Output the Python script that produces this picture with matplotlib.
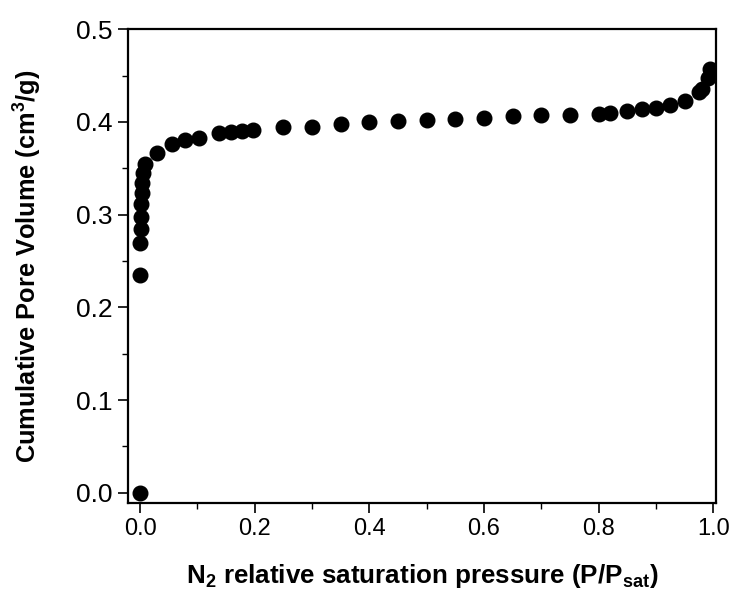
import matplotlib
matplotlib.use("Agg")
import matplotlib.pyplot as plt
from matplotlib.ticker import MultipleLocator

plt.rcParams['font.family'] = ['Liberation Sans', 'DejaVu Sans']
plt.rcParams['mathtext.fontset'] = 'custom'
plt.rcParams['mathtext.rm'] = 'Liberation Sans'
plt.rcParams['mathtext.bf'] = 'Liberation Sans:bold'
plt.rcParams['mathtext.it'] = 'Liberation Sans:italic'

pressure = [0.0, 0.0, 0.0005, 0.001, 0.0015, 0.002, 0.003, 0.004, 0.006, 0.009,
            0.03, 0.056, 0.079, 0.103, 0.138, 0.159, 0.178, 0.197,
            0.25, 0.30, 0.35, 0.40, 0.45, 0.50, 0.55, 0.60, 0.65, 0.70, 0.75,
            0.80, 0.82, 0.85, 0.875, 0.90, 0.925, 0.95, 0.975, 0.98, 0.99, 0.995]
volume = [0.0, 0.235, 0.269, 0.284, 0.298, 0.311, 0.323, 0.334, 0.345, 0.355,
          0.367, 0.376, 0.380, 0.383, 0.388, 0.389, 0.390, 0.391,
          0.394, 0.395, 0.398, 0.400, 0.401, 0.402, 0.403, 0.404, 0.406, 0.407, 0.408,
          0.409, 0.410, 0.412, 0.414, 0.415, 0.418, 0.423, 0.432, 0.436, 0.447, 0.457]
x_ticks = [0.0, 0.2, 0.4, 0.6, 0.8, 1.0]
x_ticklabels = ['0.0', '0.2', '0.4', '0.6', '0.8', '1.0']
y_ticks = [0.0, 0.1, 0.2, 0.3, 0.4, 0.5]
y_ticklabels = ['0.0', '0.1', '0.2', '0.3', '0.4', '0.5']

fig = plt.figure(figsize=(7.33, 5.96), dpi=100)
ax = fig.add_axes([0.1746, 0.156, 0.8024, 0.795])
ax.plot(pressure, volume, 'o', color='black', markersize=10.5, linestyle='none')

ax.set_xlim(-0.021, 1.005)
ax.set_ylim(-0.011, 0.5)
ax.xaxis.set_minor_locator(MultipleLocator(0.1))
ax.yaxis.set_minor_locator(MultipleLocator(0.05))
ax.set_xticks(x_ticks)
ax.set_xticklabels(x_ticklabels, fontsize=17)
ax.set_yticks(y_ticks)
ax.set_yticklabels(y_ticklabels, fontsize=19)

for s in ax.spines.values():
    s.set_linewidth(1.6)
ax.tick_params(which='major', direction='out', length=7, width=1.2, pad=4,
               top=False, right=False)
ax.tick_params(which='minor', direction='out', length=4.5, width=1.0,
               top=False, right=False)

ax.set_xlabel(r'N$_\mathbf{2}$ relative saturation pressure (P/P$_\mathbf{sat}$)',
              fontsize=18.7, fontweight='bold')
ax.set_ylabel(r'Cumulative Pore Volume (cm$^\mathbf{3}$/g)',
              fontsize=18.3, fontweight='bold')
ax.xaxis.set_label_coords(0.5, -0.124)
ax.yaxis.set_label_coords(-0.142, 0.5)

fig.savefig('out.png', dpi=100)
